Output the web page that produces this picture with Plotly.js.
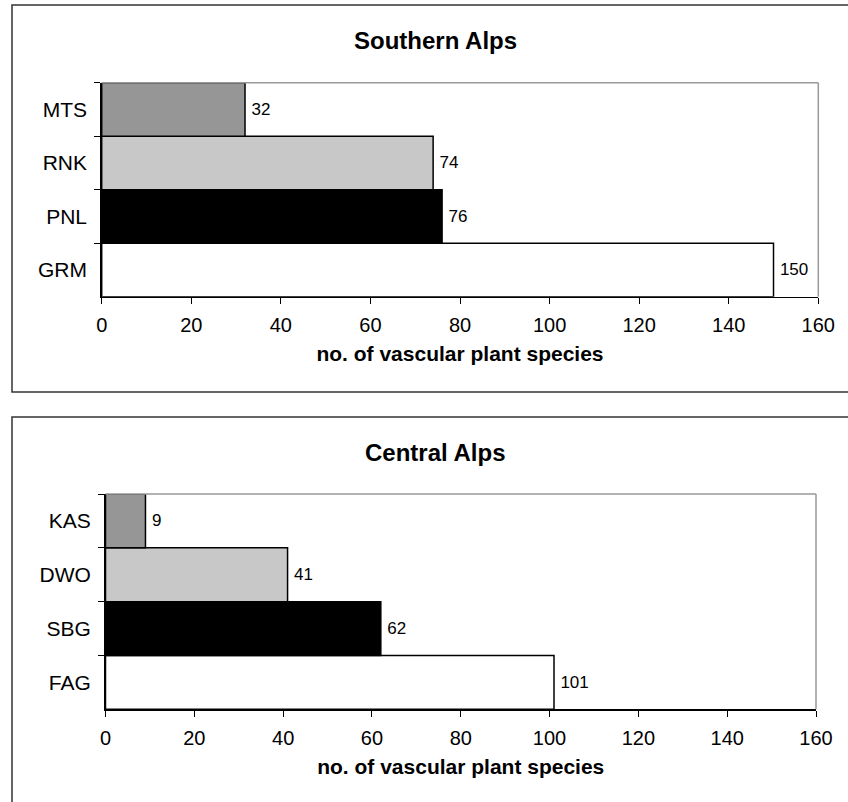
<!DOCTYPE html>
<html>
<head>
<meta charset="utf-8">
<script src="https://cdn.plot.ly/plotly-3.0.1.min.js"></script>
<style>html,body{margin:0;padding:0;background:#fff;}#chart{width:848px;height:802px;}</style>
</head>
<body>
<div id="chart"></div>
<script>
// Southern Alps (bottom to top)
const southCats = ['GRM', 'PNL', 'RNK', 'MTS'];
const southVals = [150, 76, 74, 32];
// Central Alps (bottom to top)
const centralCats = ['FAG', 'SBG', 'DWO', 'KAS'];
const centralVals = [101, 62, 41, 9];
const barColors = ['#FFFFFF', '#000000', '#C8C8C8', '#969696'];
const xTicks = [0, 20, 40, 60, 80, 100, 120, 140, 160];
const panelTitles = ['Southern Alps', 'Central Alps'];
const xTitle = 'no. of vascular plant species';

const FONT = 'Liberation Sans, Arial, sans-serif';
const W = 848, H = 802;
const px = v => v / W;
const py = v => 1 - v / H;

function barTrace(cats, vals, xa, ya) {
  return {
    type: 'bar', orientation: 'h',
    y: cats, x: vals, xaxis: xa, yaxis: ya,
    marker: {color: barColors, line: {color: '#000', width: 1.5}},
    text: vals.map(v => '\u2009' + v), textposition: 'outside',
    textfont: {family: FONT, size: 17, color: '#000'},
    constraintext: 'none', cliponaxis: false,
    hoverinfo: 'skip', showlegend: false
  };
}

function xAxis(domain, anchor) {
  return {
    domain: domain, anchor: anchor, range: [0, 160],
    tickvals: xTicks, ticktext: xTicks.map(String),
    showline: true, linecolor: '#000', linewidth: 1.5,
    ticks: 'outside', ticklen: 6, tickwidth: 1, tickcolor: '#000',
    showgrid: false, zeroline: false, fixedrange: true,
    tickfont: {family: FONT, size: 20, color: '#000'},
    ticklabelstandoff: 4,
    title: {text: '<b>' + xTitle + '</b>', standoff: 11,
            font: {family: FONT, size: 21, color: '#000'}}
  };
}
function yAxis(domain, anchor) {
  return {
    domain: domain, anchor: anchor, type: 'category',
    showline: true, linecolor: '#000', linewidth: 1.5,
    ticks: 'outside', tickson: 'boundaries', ticklen: 6, tickwidth: 1, tickcolor: '#000',
    showgrid: false, zeroline: false, fixedrange: true,
    tickfont: {family: FONT, size: 21, color: '#000'},
    ticklabelstandoff: 9
  };
}

const data = [
  barTrace(southCats, southVals, 'x', 'y'),
  barTrace(centralCats, centralVals, 'x2', 'y2')
];

function plotBorder(xr, yr) {
  return [
    {type: 'line', xref: xr + ' domain', yref: yr + ' domain', x0: 0, x1: 1, y0: 1, y1: 1,
     line: {color: '#999', width: 1.5}},
    {type: 'line', xref: xr + ' domain', yref: yr + ' domain', x0: 1, x1: 1, y0: 0, y1: 1,
     line: {color: '#999', width: 1.5}}
  ];
}

const layout = {
  width: W, height: H,
  margin: {l: 0, r: 0, t: 0, b: 0},
  paper_bgcolor: '#fff', plot_bgcolor: '#fff',
  font: {family: FONT, color: '#000'},
  bargap: 0,
  xaxis: xAxis([px(101.7), px(818.3)], 'y'),
  yaxis: yAxis([py(296.7), py(82.7)], 'x'),
  xaxis2: xAxis([px(105.5), px(816)], 'y2'),
  yaxis2: yAxis([py(709.3), py(494)], 'x2'),
  shapes: [
    {type: 'rect', xref: 'paper', yref: 'paper', x0: px(12), x1: 1.05, y0: py(392), y1: py(5),
     line: {color: '#333', width: 1.5}, fillcolor: 'rgba(0,0,0,0)'},
    {type: 'rect', xref: 'paper', yref: 'paper', x0: px(12), x1: 1.05, y0: -0.05, y1: py(417),
     line: {color: '#333', width: 1.5}, fillcolor: 'rgba(0,0,0,0)'}
  ].concat(plotBorder('x', 'y'), plotBorder('x2', 'y2')),
  annotations: [
    {text: '<b>' + panelTitles[0] + '</b>', xref: 'paper', yref: 'paper', x: px(435), y: py(40),
     xanchor: 'center', yanchor: 'middle', showarrow: false, font: {family: FONT, size: 24, color: '#000'}},
    {text: '<b>' + panelTitles[1] + '</b>', xref: 'paper', yref: 'paper', x: px(435), y: py(453),
     xanchor: 'center', yanchor: 'middle', showarrow: false, font: {family: FONT, size: 24, color: '#000'}}
  ]
};

Plotly.newPlot('chart', data, layout, {staticPlot: true, displayModeBar: false});
</script>
</body>
</html>
